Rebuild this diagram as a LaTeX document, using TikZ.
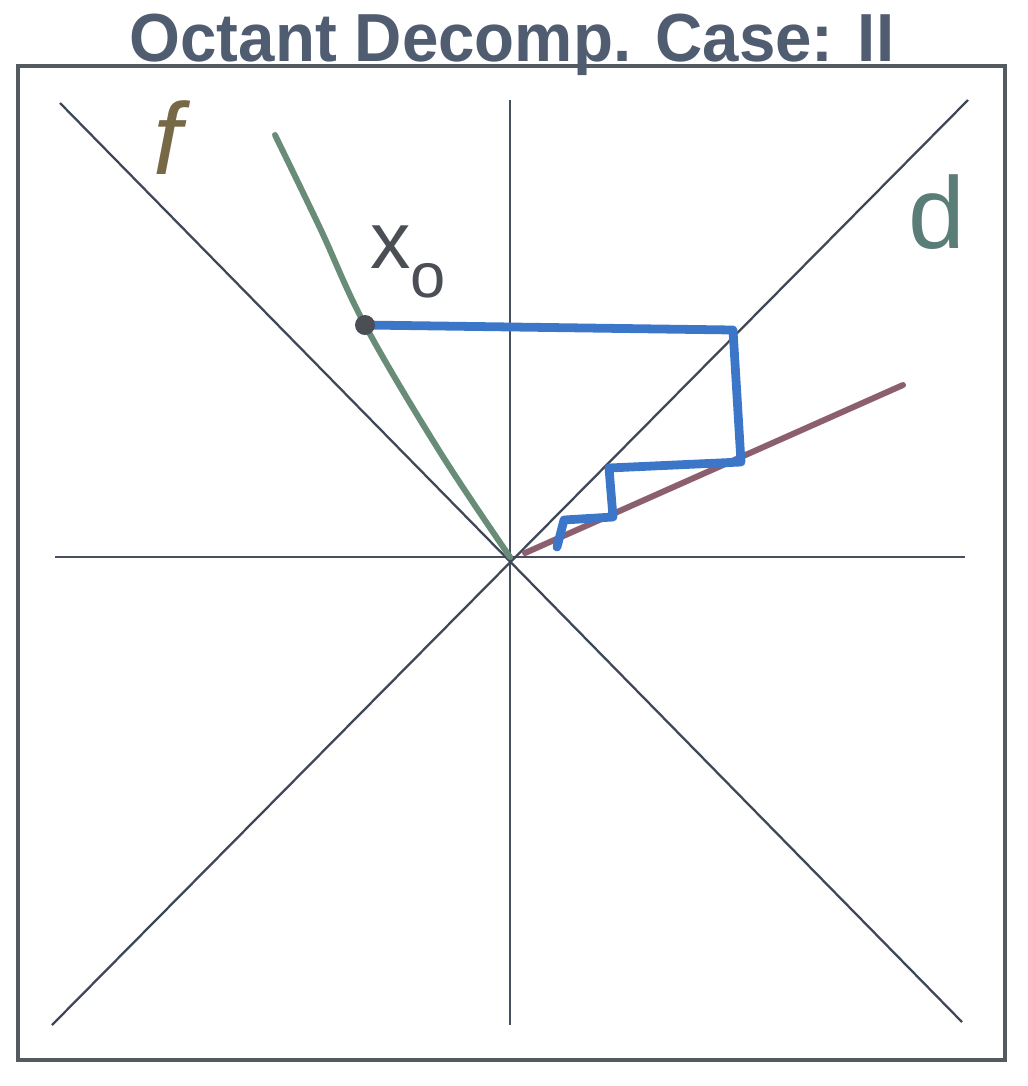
\documentclass[tikz,border=0pt]{standalone}
\usepackage{fontspec}
\setmainfont{Liberation Sans}
\definecolor{framec}{RGB}{85,90,95}
\definecolor{axisc}{RGB}{70,80,95}
\definecolor{titlec}{RGB}{80,92,112}
\definecolor{fcol}{RGB}{105,140,120}
\definecolor{dcol}{RGB}{140,95,110}
\definecolor{bluec}{RGB}{60,118,200}
\definecolor{flab}{RGB}{120,105,70}
\definecolor{dlab}{RGB}{90,125,120}
\definecolor{xlab}{RGB}{75,78,85}
\begin{document}
\begin{tikzpicture}[x=0.02cm,y=-0.02cm,
  axisline/.style={draw=axisc,line width=1.4pt},
  diagline/.style={draw=axisc!90!black,line width=1.3pt},
  stair/.style={draw=bluec,line width=5pt,line join=round,line cap=round},
  lab/.style={inner sep=0pt}]
\useasboundingbox (0,0) rectangle (1028,1086);
% frame
\draw[framec,line width=2pt] (18,66) rectangle (1005,1060);
% title
\node[lab,text=titlec,anchor=base] (title) at (512,61) {\resizebox{15.3cm}{0.95cm}{\bfseries Octant Decomp. Case: II}};
% axes
\coordinate (O) at (510,557);
\coordinate (vt) at (510,100);
\coordinate (vb) at (510,1025);
\coordinate (hl) at (55,557);
\coordinate (hr) at (965,557);
\coordinate (ul) at (60,103);
\coordinate (lr) at (962,1022);
\coordinate (ur) at (968,100);
\coordinate (ll) at (52,1025);
\draw[axisline] (vt) -- (vb);
\draw[axisline] (hl) -- (hr);
\draw[diagline] (ul) -- (lr);
\draw[diagline] (ur) -- (ll);
% f curve
\coordinate (x0) at (365,325);
\draw[fcol,line width=3.4pt,line cap=round] plot[smooth,tension=0.6] coordinates {(275,135) (320,228) (365,325) (440,452) (510,557)};
% d curve
\coordinate (ds) at (525,553);
\coordinate (de) at (903,385);
\draw[dcol,line width=3.4pt,line cap=round] (ds) -- (de);
% staircase
\coordinate (s1) at (733,330);
\coordinate (s2) at (741,462);
\coordinate (s3) at (609,468);
\coordinate (s4) at (613,517);
\coordinate (s5) at (564,520);
\coordinate (s6) at (557,547);
\draw[stair] (x0) -- (s1) -- (s2) -- (s3) -- (s4) -- (s5) -- (s6);
\fill[xlab] (x0) circle (10);
% labels
\node[lab,text=flab] (flabel) at (168,138) {\fontsize{58}{60}\selectfont\itshape f};
\node[lab,text=xlab] (xlabel) at (408,262) {\fontsize{46}{50}\selectfont x\raisebox{-0.35em}{\fontsize{36}{40}\selectfont o}};
\node[lab,text=dlab] (dlabel) at (937,212) {\fontsize{58}{60}\selectfont d};
\end{tikzpicture}
\end{document}
